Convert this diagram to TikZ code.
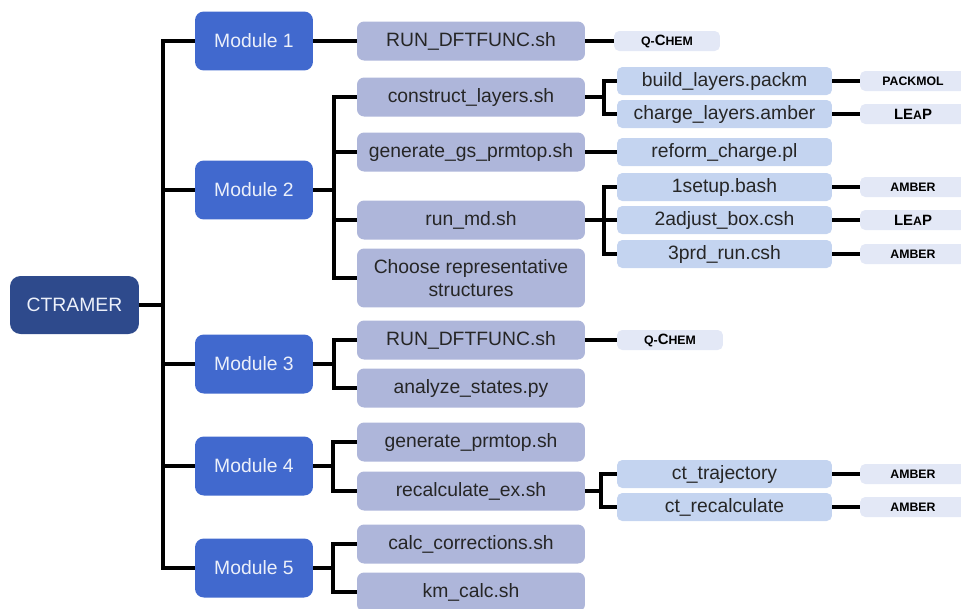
\documentclass[tikz,border=0pt]{standalone}
\usepackage{fontspec}
\setmainfont{Liberation Sans}
\usetikzlibrary{positioning}
\definecolor{rootblue}{RGB}{46,74,140}
\definecolor{modblue}{RGB}{65,105,206}
\definecolor{taskgray}{RGB}{174,182,218}
\definecolor{subblue}{RGB}{196,212,240}
\definecolor{toolpale}{RGB}{227,232,246}
\definecolor{paletext}{RGB}{236,240,250}

% small-caps look for the program tags
\newcommand{\capl}[1]{{\fontsize{8.5}{9}\selectfont #1}}

\begin{document}
\begin{tikzpicture}[x=0.02cm, y=-0.02cm, font=\fontsize{11}{13.5}\selectfont,
  root/.style={rounded corners=6pt, fill=rootblue, text=paletext, minimum width=2.58cm, minimum height=1.16cm, inner sep=0pt},
  module/.style={rounded corners=5pt, fill=modblue, text=paletext, minimum width=2.36cm, minimum height=1.18cm, inner sep=0pt},
  task/.style={rounded corners=4pt, fill=taskgray, text=black!85, minimum width=4.56cm, minimum height=0.78cm, inner sep=0pt, align=center},
  sub/.style={rounded corners=3pt, fill=subblue, text=black!85, minimum width=4.3cm, minimum height=0.56cm, inner sep=0pt},
  tool/.style={rounded corners=3pt, fill=toolpale, text=black, minimum width=2.12cm, minimum height=0.4cm, inner sep=0pt, font=\fontsize{7}{8}\selectfont\bfseries},
  link/.style={line width=2.2pt, black}]
  \useasboundingbox (0,0) rectangle (961,609);

  % root and modules
  \node[root] (root) at (74.5,305) {CTRAMER};
  \node[module] (m1) at (254,41) {Module 1};
  \node[module] (m2) at (254,190) {Module 2};
  \node[module] (m3) at (254,364) {Module 3};
  \node[module] (m4) at (254,466) {Module 4};
  \node[module] (m5) at (254,568) {Module 5};

  % scripts
  \node[task] (t1) at (471,41) {RUN\_DFTFUNC.sh};
  \node[task] (t2) at (471,97) {construct\_layers.sh};
  \node[task] (t3) at (471,152) {generate\_gs\_prmtop.sh};
  \node[task] (t4) at (471,220) {run\_md.sh};
  \node[task, minimum height=1.18cm] (t5) at (471,278) {Choose representative\\structures};
  \node[task] (t6) at (471,340) {RUN\_DFTFUNC.sh};
  \node[task] (t7) at (471,388) {analyze\_states.py};
  \node[task] (t8) at (471,442) {generate\_prmtop.sh};
  \node[task] (t9) at (471,491) {recalculate\_ex.sh};
  \node[task] (t10) at (471,544) {calc\_corrections.sh};
  \node[task] (t11) at (471,592) {km\_calc.sh};

  % helper scripts
  \node[sub] (s1) at (724.5,81) {build\_layers.packm};
  \node[sub] (s2) at (724.5,114) {charge\_layers.amber};
  \node[sub] (s3) at (724.5,152) {reform\_charge.pl};
  \node[sub] (s4) at (724.5,187) {1setup.bash};
  \node[sub] (s5) at (724.5,220) {2adjust\_box.csh};
  \node[sub] (s6) at (724.5,254) {3prd\_run.csh};
  \node[sub] (s7) at (724.5,474) {ct\_trajectory};
  \node[sub] (s8) at (724.5,507) {ct\_recalculate};

  % programs
  \node[tool] (q1) at (667,41) {Q-\capl{C}HEM};
  \node[tool] (q2) at (670,340) {Q-\capl{C}HEM};
  \node[tool] (p1) at (913,81) {PACKMOL};
  \node[tool] (l1) at (913,114) {\capl{LE}A\capl{P}};
  \node[tool] (a1) at (913,187) {AMBER};
  \node[tool] (l2) at (913,220) {\capl{LE}A\capl{P}};
  \node[tool] (a2) at (913,254) {AMBER};
  \node[tool] (a3) at (913,474) {AMBER};
  \node[tool] (a4) at (913,507) {AMBER};

  % tree connectors
  \foreach \m in {m1,m2,m3,m4,m5}
    \draw[link] (root.east) -- ++(24,0) |- (\m.west);
  \draw[link] (m1.east) -- (t1.west);
  \foreach \t in {t2,t3,t4,t5}
    \draw[link] (m2.east) -- ++(21,0) |- (\t.west);
  \foreach \t in {t6,t7}
    \draw[link] (m3.east) -- ++(21,0) |- (\t.west);
  \foreach \t in {t8,t9}
    \draw[link] (m4.east) -- ++(20,0) |- (\t.west);
  \foreach \t in {t10,t11}
    \draw[link] (m5.east) -- ++(20,0) |- (\t.west);
  \foreach \s in {s1,s2}
    \draw[link] (t2.east) -- ++(19,0) |- (\s.west);
  \draw[link] (t3.east) -- (s3.west);
  \foreach \s in {s4,s5,s6}
    \draw[link] (t4.east) -- ++(19,0) |- (\s.west);
  \foreach \s in {s7,s8}
    \draw[link] (t9.east) -- ++(16,0) |- (\s.west);

  % program links
  \draw[link] (t1.east) -- (q1.west);
  \draw[link] (t6.east) -- (q2.west);
  \draw[link] (s1.east) -- (p1.west);
  \draw[link] (s2.east) -- (l1.west);
  \draw[link] (s4.east) -- (a1.west);
  \draw[link] (s5.east) -- (l2.west);
  \draw[link] (s6.east) -- (a2.west);
  \draw[link] (s7.east) -- (a3.west);
  \draw[link] (s8.east) -- (a4.west);
\end{tikzpicture}
\end{document}
